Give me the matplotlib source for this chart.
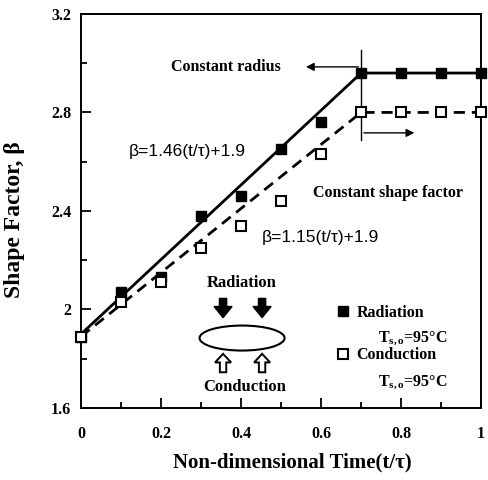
import matplotlib
matplotlib.use("Agg")
import matplotlib.pyplot as plt
from matplotlib.patches import Ellipse, FancyArrow
from matplotlib.lines import Line2D

# ---- data ----
t = [0.0, 0.1, 0.2, 0.3, 0.4, 0.5, 0.6, 0.7, 0.8, 0.9, 1.0]
radiation = [1.89, 2.07, 2.13, 2.38, 2.46, 2.65, 2.76, 2.96, 2.96, 2.96, 2.96]
conduction = [1.89, 2.03, 2.11, 2.25, 2.34, 2.44, 2.63, 2.80, 2.80, 2.80, 2.80]
rad_line_x = [0.0, 0.7, 1.0]
rad_line_y = [1.90, 2.96, 2.96]
con_line_x = [0.0, 0.7, 1.0]
con_line_y = [1.89, 2.80, 2.80]
xticks = [0, 0.2, 0.4, 0.6, 0.8, 1.0]
xticklabels = ["0", "0.2", "0.4", "0.6", "0.8", "1"]
yticks = [1.6, 2.0, 2.4, 2.8, 3.2]
yticklabels = ["1.6", "2", "2.4", "2.8", "3.2"]

plt.rcParams['mathtext.fontset'] = 'custom'
plt.rcParams['mathtext.rm'] = 'Liberation Serif:bold'
plt.rcParams['mathtext.it'] = 'Liberation Serif:bold'
plt.rcParams['mathtext.bf'] = 'Liberation Serif:bold'

SERIF = ['Liberation Serif', 'DejaVu Serif']
SANS = ['Liberation Sans', 'DejaVu Sans']

fig = plt.figure(figsize=(4.88, 4.80), dpi=100)
ax = fig.add_axes([0.166, 0.15, 0.820, 0.821])

ax.plot(rad_line_x, rad_line_y, color='black', lw=2.0, zorder=2, clip_on=False)
ax.plot(con_line_x, con_line_y, color='black', lw=2.0, ls=(0, (4, 2.5)), zorder=2, clip_on=False)
ax.plot(t, radiation, ls='none', marker='s', ms=7.5, mfc='black', mec='black', zorder=3,
        clip_on=False)
ax.plot(t, conduction, ls='none', marker='s', ms=7, mfc='white', mec='black', mew=1.5, zorder=3,
        clip_on=False)

ax.set_xlim(0, 1.0)
ax.set_ylim(1.6, 3.2)
ax.set_xticks(xticks)
ax.set_xticklabels(xticklabels)
ax.set_yticks(yticks)
ax.set_yticklabels(yticklabels)
ax.set_xticks([0.1, 0.3, 0.5, 0.7, 0.9], minor=True)
ax.set_yticks([1.8, 2.2, 2.6, 3.0], minor=True)
ax.tick_params(which='major', direction='in', length=7, width=1.3, labelsize=11.5)
ax.tick_params(axis='x', which='major', pad=13)
ax.tick_params(axis='y', which='major', pad=7)
ax.tick_params(which='minor', direction='in', length=4, width=1.3)
for lab in ax.get_xticklabels() + ax.get_yticklabels():
    lab.set_family(SERIF)
    lab.set_fontweight('bold')
for s in ax.spines.values():
    s.set_linewidth(1.4)

ax.set_xlabel('Non-dimensional Time(t/τ)', family=SERIF, fontweight='bold', fontsize=15)
ax.set_ylabel('Shape Factor, β', family=SERIF, fontweight='bold', fontsize=17)
ax.xaxis.set_label_coords(0.529, -0.112)
ax.yaxis.set_label_coords(-0.14, 0.477)

# vertical marker line and arrows
ax.plot([0.7, 0.7], [2.69, 3.054], color='black', lw=1.0)
ax.annotate('', xy=(0.555, 2.985), xytext=(0.7, 2.985),
            arrowprops=dict(arrowstyle='-|>', color='black', lw=1.0, mutation_scale=12))
ax.annotate('', xy=(0.84, 2.717), xytext=(0.7, 2.717),
            arrowprops=dict(arrowstyle='-|>', color='black', lw=1.0, mutation_scale=12))

ax.text(0.3625, 2.985, 'Constant radius', family=SERIF, fontweight='bold', fontsize=11.5,
        ha='center', va='center')
ax.text(0.7675, 2.473, 'Constant shape factor', family=SERIF, fontweight='bold', fontsize=11.5,
        ha='center', va='center')
ax.text(0.265, 2.64, 'β=1.46(t/τ)+1.9', family=SANS, fontsize=12.5, ha='center', va='center')
ax.text(0.5975, 2.294, 'β=1.15(t/τ)+1.9', family=SANS, fontsize=12.5, ha='center', va='center')

# schematic
ax.text(0.4025, 2.108, 'Radiation', family=SERIF, fontweight='bold', fontsize=12,
        ha='center', va='center')
ax.text(0.41, 1.685, 'Conduction', family=SERIF, fontweight='bold', fontsize=12,
        ha='center', va='center')
ax.add_patch(Ellipse((0.4025, 1.884), 0.2125, 0.1015, fill=False, ec='black', lw=1.5))
for xa in (0.355, 0.4525):
    ax.add_patch(FancyArrow(xa, 2.045, 0, -0.078, width=0.018, head_width=0.045,
                            head_length=0.045, length_includes_head=True,
                            fc='black', ec='black'))
    ax.add_patch(FancyArrow(xa, 1.745, 0, 0.075, width=0.016, head_width=0.04,
                            head_length=0.035, length_includes_head=True,
                            fc='white', ec='black', lw=1.4))

# legend
h1 = Line2D([], [], ls='none', marker='s', ms=7.5, mfc='black', mec='black')
h2 = Line2D([], [], ls='none', marker='s', ms=7, mfc='white', mec='black', mew=1.5)
ax.legend([h1, h2], ['Radiation', 'Conduction'], loc='upper left',
          bbox_to_anchor=(0.639, 0.262), frameon=False, handlelength=0.8,
          handletextpad=0.45, labelspacing=1.65, borderaxespad=0, borderpad=0,
          prop=dict(family=SERIF, weight='bold', size=11.5))
ax.text(0.9175, 1.884, r'T$_{\mathrm{s,o}}$=95°C', family=SERIF,
        fontweight='bold', fontsize=11.5, ha='right', va='center')
ax.text(0.9175, 1.705, r'T$_{\mathrm{s,o}}$=95°C', family=SERIF,
        fontweight='bold', fontsize=11.5, ha='right', va='center')

fig.savefig('out.png', dpi=100)
